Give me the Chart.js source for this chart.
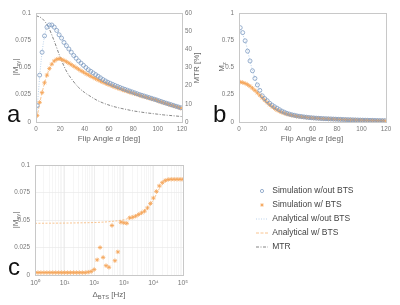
<!DOCTYPE html>
<html>
<head>
<meta charset="utf-8">
<script src="https://cdn.jsdelivr.net/npm/chart.js@4.4.1/dist/chart.umd.min.js"></script>
<style>
  body { margin: 0; background: #fff; width: 400px; height: 305px; position: relative; overflow: hidden; }
  canvas { position: absolute; }
</style>
</head>
<body>
<canvas id="chA" width="210" height="150" style="left:0;top:0"></canvas>
<canvas id="chB" width="200" height="150" style="left:200px;top:0"></canvas>
<canvas id="chC" width="200" height="155" style="left:0;top:150px"></canvas>
<canvas id="chD" width="200" height="155" style="left:200px;top:150px"></canvas>
<script>
// sample grids
const angleSim = [1,3,5,7,9,11,13,15,17,19,21,23,25,27,29,31,33,35,37,39,
  41,43,45,47,49,51,53,55,57,59,61,63,65,67,69,71,73,75,77,79,
  81,83,85,87,89,91,93,95,97,99,101,103,105,107,109,111,113,115,117,119];
const angleFit = [0,5,10,15,20,25,30,35,40,45,50,55,60,65,70,75,80,85,90,95,100,105,110,115,120];
const deltaSim = [1,1.26,1.58,2,2.51,3.16,3.98,5.01,6.31,7.94,
  10,12.6,15.8,20,25.1,31.6,39.8,50.1,63.1,79.4,
  100,126,158,200,251,316,398,501,631,794,
  1000,1260,1580,2000,2510,3160,3980,5010,6310,7940,
  10000,12600,15800,20000,25100,31600,39800,50100,63100,79400,100000];
const deltaFit = [1,3.16,10,31.6,100,316,1000,1780,3160,5620,10000,17800,31600,56200,100000];

// panel a : |Mxy| and MTR
const mxySimNoBts = [0.015,0.043,0.064,0.079,0.087,0.089,0.089,0.087,0.084,0.080,
  0.077,0.073,0.070,0.067,0.064,0.061,0.0585,0.056,0.054,0.052,
  0.050,0.048,0.0465,0.045,0.0435,0.042,0.0405,0.039,0.0377,0.0365,
  0.0355,0.0345,0.0335,0.0326,0.0317,0.0308,0.030,0.0292,0.0284,0.0276,
  0.0268,0.026,0.0252,0.0245,0.0238,0.0231,0.0224,0.0217,0.021,0.0203,
  0.0195,0.0188,0.018,0.0173,0.0166,0.0159,0.0152,0.0145,0.0138,0.0131];
const mxySimBts = [0.006,0.018,0.027,0.036,0.043,0.049,0.053,0.056,0.0575,0.058,
  0.0575,0.0565,0.0553,0.054,0.0526,0.0512,0.0498,0.0484,0.047,0.0457,
  0.0444,0.0432,0.042,0.0408,0.0397,0.0386,0.0375,0.0365,0.0355,0.0346,
  0.0337,0.0328,0.0319,0.0311,0.0303,0.0295,0.0287,0.028,0.0273,0.0266,
  0.0259,0.0252,0.0245,0.0238,0.0231,0.0225,0.0219,0.0212,0.0206,0.02,
  0.019,0.0183,0.0176,0.0169,0.0162,0.0155,0.0148,0.0141,0.0134,0.0127];
const mxyFitNoBts = [0,0.064,0.088,0.087,0.079,0.070,0.0625,0.056,0.051,0.0465,0.0428,0.0395,0.0362,
  0.0335,0.0312,0.0292,0.0272,0.0252,0.0234,0.0216,0.0198,0.018,0.0163,0.0147,0.013];
const mxyFitBts = [0,0.027,0.046,0.056,0.058,0.0553,0.0519,0.0484,0.045,0.042,0.0392,0.0365,0.0342,
  0.032,0.0299,0.028,0.0262,0.0245,0.0228,0.0212,0.0197,0.0179,0.0162,0.0144,0.0127];
const mtr = [58.5,57,52.5,44.5,35.5,28,23,19,16.2,14,12,10.5,9.3,8.3,7.5,6.8,6.1,5.6,5.1,4.7,4.3,3.9,3.6,3.3,3.0];

// panel b : Mz
const mzSimNoBts = [0.865,0.82,0.745,0.65,0.56,0.47,0.40,0.34,0.29,0.24,
  0.215,0.195,0.172,0.155,0.14,0.127,0.113,0.10,0.09,0.08,
  0.073,0.067,0.062,0.057,0.053,0.05,0.047,0.044,0.041,0.039,
  0.037,0.0355,0.034,0.0325,0.031,0.030,0.029,0.028,0.027,0.026,
  0.025,0.024,0.023,0.022,0.0212,0.0204,0.0196,0.0189,0.0182,0.0175,
  0.0169,0.0163,0.0157,0.0151,0.0145,0.014,0.0135,0.013,0.0125,0.012];
const mzSimBts = [0.366,0.362,0.354,0.343,0.328,0.31,0.29,0.268,0.245,0.222,
  0.2,0.178,0.158,0.14,0.124,0.11,0.098,0.088,0.08,0.073,
  0.067,0.062,0.057,0.053,0.05,0.047,0.044,0.042,0.04,0.038,
  0.036,0.0345,0.033,0.0315,0.030,0.029,0.028,0.027,0.026,0.025,
  0.024,0.023,0.022,0.0212,0.0204,0.0196,0.0189,0.0182,0.0175,0.0168,
  0.0162,0.0156,0.015,0.0145,0.014,0.0135,0.013,0.0125,0.012,0.0115];
const mzFitNoBts = [0.87,0.745,0.515,0.34,0.228,0.165,0.133,0.10,0.0765,0.062,0.0515,0.044,0.038,
  0.034,0.0305,0.028,0.0255,0.023,0.0208,0.0189,0.0172,0.0157,0.0143,0.013,0.0118];
const mzFitBts = [0.367,0.354,0.319,0.268,0.211,0.158,0.117,0.088,0.07,0.057,0.0485,0.043,0.037,
  0.033,0.0295,0.027,0.0245,0.0221,0.02,0.0182,0.0165,0.015,0.0137,0.0125,0.0114];

// panel c : |Mxy| vs BTS offset
const mxyDeltaSim = [0.0022,0.0022,0.0022,0.0022,0.0022,0.0022,0.0022,0.0022,0.0022,0.0022,
  0.0022,0.0022,0.0022,0.0022,0.0022,0.0022,0.0022,0.0022,0.0026,0.0032,
  0.005,0.0138,0.025,0.016,0.0085,0.007,0.045,0.013,0.021,0.048,
  0.0475,0.047,0.052,0.0525,0.0535,0.055,0.0565,0.058,0.061,0.065,
  0.07,0.076,0.081,0.084,0.086,0.0868,0.087,0.087,0.087,0.087,0.087];
const mxyDeltaFit = [0.047,0.0471,0.0472,0.0474,0.0477,0.0485,0.0503,0.0522,0.0548,0.0595,0.0685,0.0805,0.0862,0.087,0.087];

const legendNames = ['Simulation w/out BTS', 'Simulation w/ BTS', 'Analytical w/out BTS', 'Analytical w/ BTS', 'MTR'];

const BLUE = '#7f9cc2', ORANGE = '#f5a458', LBLUE = '#a9c6e6', LORANGE = '#f7b574', GREY = '#666666';
const FONT = '"Liberation Sans", Arial, sans-serif';
Chart.defaults.font.family = FONT;
Chart.defaults.font.size = 6.3;
Chart.defaults.color = '#777';

const pts = (xs, ys) => ys.map((y, i) => ({ x: xs[i], y }));
const plainNum = v => String(+Number(v).toFixed(4));

function simSet(label, xs, ys, color, style) {
  return { label, data: pts(xs, ys), showLine: false, pointStyle: style,
    pointRadius: style === 'star' ? 2.2 : 2, pointBorderWidth: 0.8,
    pointBorderColor: color, pointBackgroundColor: 'rgba(0,0,0,0)', order: 0 };
}
function fitSet(label, xs, ys, color, dash, axis) {
  return { label, data: pts(xs, ys), showLine: true, pointRadius: 0, borderWidth: 0.8,
    borderColor: color, borderDash: dash, cubicInterpolationMode: 'monotone',
    yAxisID: axis || 'y', order: 1 };
}

// text with sub-scripts, centred on (x, y)
function richText(ctx, parts, x, y, rot, size, color) {
  ctx.save();
  ctx.translate(x, y);
  ctx.rotate(rot);
  ctx.fillStyle = color;
  ctx.textBaseline = 'alphabetic';
  const fonts = parts.map(p => (p[2] ? 'italic ' : '') + (p[1] ? size * 0.72 : size) + 'px ' + FONT);
  let w = 0;
  parts.forEach((p, i) => { ctx.font = fonts[i]; w += ctx.measureText(p[0]).width; });
  let cx = -w / 2;
  parts.forEach((p, i) => {
    ctx.font = fonts[i];
    ctx.fillText(p[0], cx, size * 0.36 + (p[1] ? size * 0.3 : 0));
    cx += ctx.measureText(p[0]).width;
  });
  ctx.restore();
}

const deco = {
  id: 'deco',
  afterDraw(chart, args, o) {
    const { ctx, chartArea: a } = chart;
    ctx.save();
    ctx.strokeStyle = '#c8c8c8';
    ctx.lineWidth = 1;
    ctx.strokeRect(Math.round(a.left) + 0.5, Math.round(a.top) + 0.5, Math.round(a.right - a.left), Math.round(a.bottom - a.top));
    ctx.restore();
    (o.titles || []).forEach(t => richText(ctx, t.parts, t.x, t.y, t.rot || 0, 8, '#666'));
    ctx.save();
    ctx.font = '24px ' + FONT;
    ctx.fillStyle = '#111';
    ctx.fillText(o.letter, o.lx, o.ly);
    ctx.restore();
  }
};

const flipTitle = [['Flip Angle ', 0], ['\u03b1', 0, 1], [' [deg]', 0]];
const mxyTitle = [['|M', 0], ['xy', 1], ['|', 0]];

function baseScales(yMax, yStep, yW, xH) {
  return {
    x: { type: 'linear', min: 0, max: 120, grid: { display: false, drawTicks: false }, border: { display: false },
      ticks: { stepSize: 20, padding: 3, maxRotation: 0 }, afterFit: s => { s.height = xH; } },
    y: { min: 0, max: yMax, grid: { display: false, drawTicks: false }, border: { display: false },
      ticks: { stepSize: yStep, padding: 5, callback: plainNum }, afterFit: s => { s.width = yW; } }
  };
}

const common = { responsive: false, animation: false, events: [], devicePixelRatio: 1 };

// panel a
const scA = baseScales(0.1, 0.025, 36, 28);
scA.y2 = { position: 'right', min: 0, max: 60, grid: { display: false, drawTicks: false }, border: { display: false },
  ticks: { stepSize: 10, padding: 3 }, afterFit: s => { s.width = 28; } };
new Chart(document.getElementById('chA'), {
  type: 'scatter',
  data: { datasets: [
    simSet(legendNames[0], angleSim, mxySimNoBts, BLUE, 'circle'),
    simSet(legendNames[1], angleSim, mxySimBts, ORANGE, 'star'),
    fitSet(legendNames[2], angleFit, mxyFitNoBts, LBLUE, [1, 1.5]),
    fitSet(legendNames[3], angleFit, mxyFitBts, LORANGE, [3, 1.5]),
    fitSet(legendNames[4], angleFit, mtr, GREY, [3, 1.5, 1, 1.5], 'y2')
  ] },
  options: Object.assign({}, common, {
    layout: { padding: { top: 13, left: 0, right: 0, bottom: 0 } },
    scales: scA,
    plugins: { legend: { display: false }, tooltip: { enabled: false },
      deco: { letter: 'a', lx: 7, ly: 122, titles: [
        { parts: flipTitle, x: 109, y: 138 },
        { parts: mxyTitle, x: 15, y: 67, rot: -Math.PI / 2 },
        { parts: [['MTR [%]', 0]], x: 196, y: 68, rot: -Math.PI / 2 }
      ] } }
  }),
  plugins: [deco]
});

// panel b
new Chart(document.getElementById('chB'), {
  type: 'scatter',
  data: { datasets: [
    simSet(legendNames[0], angleSim, mzSimNoBts, BLUE, 'circle'),
    simSet(legendNames[1], angleSim, mzSimBts, ORANGE, 'star'),
    fitSet(legendNames[2], angleFit, mzFitNoBts, LBLUE, [1, 1.5]),
    fitSet(legendNames[3], angleFit, mzFitBts, LORANGE, [3, 1.5])
  ] },
  options: Object.assign({}, common, {
    layout: { padding: { top: 13, left: 0, right: 14, bottom: 0 } },
    scales: baseScales(1, 0.25, 39, 28),
    plugins: { legend: { display: false }, tooltip: { enabled: false },
      deco: { letter: 'b', lx: 13, ly: 122, titles: [
        { parts: flipTitle, x: 112, y: 138 },
        { parts: [['M', 0], ['z', 1]], x: 21, y: 67, rot: -Math.PI / 2 }
      ] } }
  }),
  plugins: [deco]
});

// panel c
const sup = ['\u2070', '\u00b9', '\u00b2', '\u00b3', '\u2074', '\u2075'];
const isDecade = v => Math.abs(Math.log10(v) - Math.round(Math.log10(v))) < 1e-9;
new Chart(document.getElementById('chC'), {
  type: 'scatter',
  data: { datasets: [
    simSet(legendNames[1], deltaSim, mxyDeltaSim, ORANGE, 'star'),
    fitSet(legendNames[3], deltaFit, mxyDeltaFit, LORANGE, [2, 1.5])
  ] },
  options: Object.assign({}, common, {
    layout: { padding: { top: 15, left: 0, right: 17, bottom: 0 } },
    scales: {
      x: { type: 'logarithmic', min: 1, max: 100000, border: { display: false },
        grid: { drawTicks: false, lineWidth: 0.6, color: c => (c.tick && isDecade(c.tick.value)) ? '#e2e2e2' : '#f0f0f0' },
        ticks: { autoSkip: false, maxRotation: 0, padding: 4, font: { size: 6.8 },
          callback: v => isDecade(v) ? '10' + sup[Math.round(Math.log10(v))] : '' },
        afterBuildTicks: s => {
          s.ticks = s.ticks.filter(t => {
            const m = t.value / Math.pow(10, Math.floor(Math.log10(t.value) + 1e-9));
            return Math.abs(m - Math.round(m)) < 1e-6;
          });
        },
        afterFit: s => { s.height = 30; } },
      y: { min: 0, max: 0.1, border: { display: false },
        grid: { drawTicks: false, lineWidth: 0.6, color: '#e6e6e6' },
        ticks: { stepSize: 0.025, padding: 5, callback: plainNum }, afterFit: s => { s.width = 35; } }
    },
    plugins: { legend: { display: false }, tooltip: { enabled: false },
      deco: { letter: 'c', lx: 8, ly: 125, titles: [
        { parts: [['\u0394', 0], ['BTS', 1], [' [Hz]', 0]], x: 109, y: 144 },
        { parts: mxyTitle, x: 15, y: 70, rot: -Math.PI / 2 }
      ] } }
  }),
  plugins: [deco]
});

// legend
function markerIcon(color, style, r) {
  const c = document.createElement('canvas');
  c.width = 8; c.height = 8;
  const g = c.getContext('2d');
  g.strokeStyle = color;
  g.fillStyle = 'rgba(0,0,0,0)';
  g.lineWidth = 0.8;
  Chart.helpers.drawPoint(g, { pointStyle: style, radius: r, borderWidth: 0.8, rotation: 0 }, 4, 4);
  return c;
}
new Chart(document.getElementById('chD'), {
  type: 'scatter',
  data: { datasets: [
    { label: legendNames[0], data: [], borderColor: BLUE, icon: markerIcon(BLUE, 'circle', 1.6) },
    { label: legendNames[1], data: [], borderColor: ORANGE, icon: markerIcon(ORANGE, 'star', 1.8) },
    { label: legendNames[2], data: [], borderColor: LBLUE, borderDash: [1, 1.5], borderWidth: 0.8 },
    { label: legendNames[3], data: [], borderColor: LORANGE, borderDash: [3, 1.5], borderWidth: 0.8 },
    { label: legendNames[4], data: [], borderColor: GREY, borderDash: [3, 1.5, 1, 1.5], borderWidth: 0.8 }
  ] },
  options: Object.assign({}, common, {
    layout: { padding: { top: 0, left: 50.5, right: 0, bottom: 17 } },
    scales: { x: { display: false }, y: { display: false } },
    plugins: { tooltip: { enabled: false },
      legend: { position: 'left', align: 'center', maxWidth: 150,
        labels: { usePointStyle: true, pointStyleWidth: 12, padding: 5.5, color: '#444', font: { size: 8.5 },
          generateLabels: chart => chart.data.datasets.map((d, i) => ({
            text: d.label, datasetIndex: i, hidden: false, fontColor: '#444',
            pointStyle: d.icon || 'line', strokeStyle: d.borderColor, fillStyle: 'rgba(0,0,0,0)',
            lineWidth: d.borderWidth || 0.8, lineDash: d.borderDash || []
          })) } } }
  })
});
</script>
</body>
</html>
